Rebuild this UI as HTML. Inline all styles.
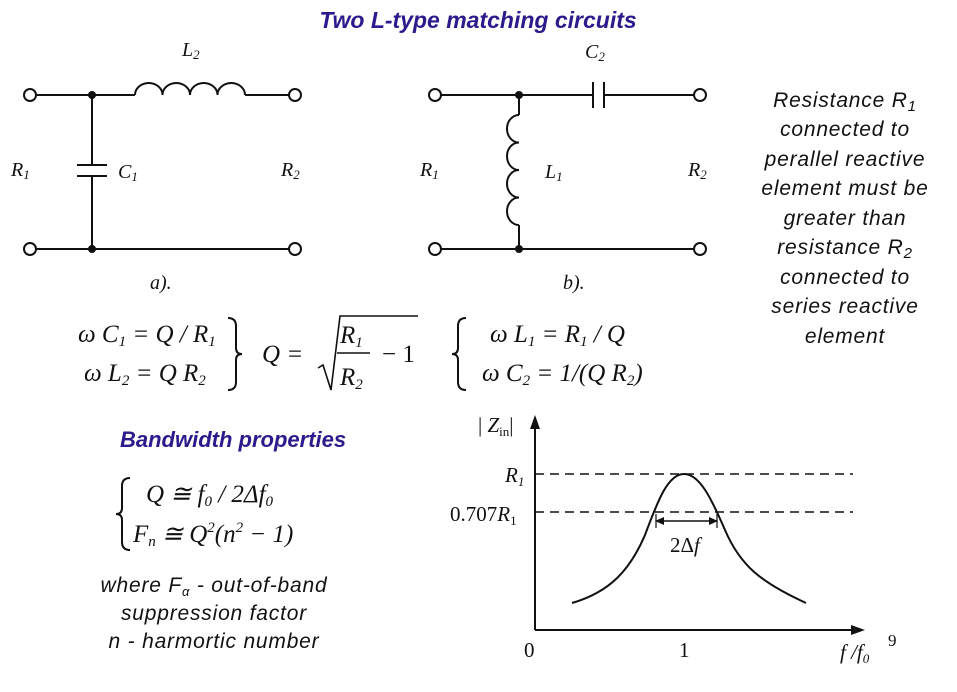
<!DOCTYPE html>
<html><head><style>
body{margin:0;background:#fff;}
svg{display:block}
.s{font-family:"Liberation Serif",serif;font-style:italic;fill:#111}
.n{font-family:"Liberation Serif",serif;fill:#111}
.a{font-family:"Liberation Sans",sans-serif;font-style:italic;fill:#111}
</style></head><body>
<svg width="957" height="692" viewBox="0 0 957 692" xmlns="http://www.w3.org/2000/svg">
<rect width="957" height="692" fill="#fff"/>
<text x="478" y="28" text-anchor="middle" font-family="Liberation Sans,sans-serif" font-weight="bold" font-style="italic" font-size="23" fill="#2b1b8c">Two L-type matching circuits</text>
<g stroke="#111" stroke-width="2" fill="none">
<line x1="36" y1="95" x2="135" y2="95"/>
<path d="M135 95 a13.75 12 0 0 1 27.5 0 a13.75 12 0 0 1 27.5 0 a13.75 12 0 0 1 27.5 0 a13.75 12 0 0 1 27.5 0"/>
<line x1="245" y1="95" x2="289" y2="95"/>
<line x1="36" y1="249" x2="289" y2="249"/>
<line x1="92" y1="95" x2="92" y2="165"/>
<line x1="77" y1="165" x2="107" y2="165"/>
<line x1="77" y1="176" x2="107" y2="176"/>
<line x1="92" y1="176" x2="92" y2="249"/>
<circle cx="30" cy="95" r="6"/><circle cx="295" cy="95" r="6"/>
<circle cx="30" cy="249" r="6"/><circle cx="295" cy="249" r="6"/>
<line x1="441" y1="95" x2="593" y2="95"/>
<line x1="593" y1="82" x2="593" y2="108"/>
<line x1="604" y1="82" x2="604" y2="108"/>
<line x1="604" y1="95" x2="694" y2="95"/>
<line x1="441" y1="249" x2="694" y2="249"/>
<line x1="519" y1="95" x2="519" y2="115"/>
<path d="M519 115 a12 13.75 0 0 0 0 27.5 a12 13.75 0 0 0 0 27.5 a12 13.75 0 0 0 0 27.5 a12 13.75 0 0 0 0 27.5"/>
<line x1="519" y1="225" x2="519" y2="249"/>
<circle cx="435" cy="95" r="6"/><circle cx="700" cy="95" r="6"/>
<circle cx="435" cy="249" r="6"/><circle cx="700" cy="249" r="6"/>
</g>
<circle cx="92" cy="95" r="4" fill="#111"/><circle cx="92" cy="249" r="4" fill="#111"/>
<circle cx="519" cy="95" r="4" fill="#111"/><circle cx="519" cy="249" r="4" fill="#111"/>
<g font-size="20">
<text class="s" x="11" y="176">R<tspan class="n" font-size="13" dy="3">1</tspan></text>
<text class="s" x="118" y="178">C<tspan class="n" font-size="13" dy="3">1</tspan></text>
<text class="s" x="281" y="176">R<tspan class="n" font-size="13" dy="3">2</tspan></text>
<text class="s" x="182" y="56">L<tspan class="n" font-size="13" dy="3">2</tspan></text>
<text class="s" x="150" y="289">a<tspan class="n">).</tspan></text>
<text class="s" x="420" y="176">R<tspan class="n" font-size="13" dy="3">1</tspan></text>
<text class="s" x="545" y="178">L<tspan class="n" font-size="13" dy="3">1</tspan></text>
<text class="s" x="688" y="176">R<tspan class="n" font-size="13" dy="3">2</tspan></text>
<text class="s" x="585" y="58">C<tspan class="n" font-size="13" dy="3">2</tspan></text>
<text class="s" x="563" y="289">b<tspan class="n">).</tspan></text>
</g>
<g class="a" font-size="21" text-anchor="middle" letter-spacing="0.8">
<text x="845" y="107">Resistance R<tspan font-size="15" dy="4">1</tspan></text>
<text x="845" y="136">connected to</text>
<text x="845" y="166">perallel reactive</text>
<text x="845" y="195">element must be</text>
<text x="845" y="225">greater than</text>
<text x="845" y="254">resistance R<tspan font-size="15" dy="4">2</tspan></text>
<text x="845" y="284">connected to</text>
<text x="845" y="313">series reactive</text>
<text x="845" y="343">element</text>
</g>
<g font-size="25">
<text class="s" x="78" y="342">ω C<tspan class="n" font-size="15" dy="4">1</tspan><tspan class="n" dy="-4"> = </tspan>Q / R<tspan class="n" font-size="15" dy="4">1</tspan></text>
<text class="s" x="84" y="381">ω L<tspan class="n" font-size="15" dy="4">2</tspan><tspan class="n" dy="-4"> = </tspan>Q R<tspan class="n" font-size="15" dy="4">2</tspan></text>
<text class="s" x="262" y="362">Q<tspan class="n"> =</tspan></text>
<text class="s" x="340" y="343">R<tspan class="n" font-size="15" dy="4">1</tspan></text>
<text class="s" x="340" y="385">R<tspan class="n" font-size="15" dy="4">2</tspan></text>
<text class="n" x="382" y="362">− 1</text>
<text class="s" x="490" y="342">ω L<tspan class="n" font-size="15" dy="4">1</tspan><tspan class="n" dy="-4"> = </tspan>R<tspan class="n" font-size="15" dy="4">1</tspan><tspan dy="-4"> / Q</tspan></text>
<text class="s" x="482" y="381">ω C<tspan class="n" font-size="15" dy="4">2</tspan><tspan class="n" dy="-4"> = 1/(</tspan>Q R<tspan class="n" font-size="15" dy="4">2</tspan><tspan class="n" dy="-4">)</tspan></text>
</g>
<g stroke="#111" stroke-width="2" fill="none">
<path d="M228 318 q8 0 8 8 v22 q0 6 6 6 q-6 0 -6 6 v22 q0 8 -8 8"/>
<path d="M466 318 q-8 0 -8 8 v22 q0 6 -6 6 q6 0 6 6 v22 q0 8 8 8"/>
<path d="M130 478 q-8 0 -8 8 v22 q0 6 -6 6 q6 0 6 6 v22 q0 8 8 8"/>
</g>
<path d="M318 368 l5 -3 l8 25 l9 -74 h78" stroke="#111" stroke-width="1.6" fill="none"/>
<line x1="337" y1="353" x2="370" y2="353" stroke="#111" stroke-width="1.5"/>
<text x="120" y="447" font-family="Liberation Sans,sans-serif" font-weight="bold" font-style="italic" font-size="22" fill="#2b1b8c">Bandwidth properties</text>
<g font-size="25">
<text class="s" x="146" y="502">Q<tspan class="n"> ≅ </tspan>f<tspan class="n" font-size="15" dy="4">0</tspan><tspan class="n" dy="-4"> / 2Δ</tspan>f<tspan class="n" font-size="15" dy="4">0</tspan></text>
<text class="s" x="133" y="542">F<tspan class="n" font-size="15" dy="4">n</tspan><tspan class="n" dy="-4"> ≅ </tspan>Q<tspan class="n" font-size="15" dy="-10">2</tspan><tspan class="n" dy="10">(</tspan>n<tspan class="n" font-size="15" dy="-10">2</tspan><tspan class="n" dy="10"> − 1)</tspan></text>
</g>
<g class="a" font-size="21" text-anchor="middle" letter-spacing="0.8">
<text x="214" y="592">where F<tspan font-size="13" dy="4">α</tspan><tspan dy="-4"> - out-of-band</tspan></text>
<text x="214" y="620">suppression factor</text>
<text x="214" y="648">n - harmortic number</text>
</g>
<g stroke="#111" stroke-width="2" fill="none">
<line x1="535" y1="630" x2="856" y2="630"/>
<line x1="535" y1="630" x2="535" y2="424"/>
<line x1="535" y1="474" x2="853" y2="474" stroke-dasharray="9 6" stroke-width="1.6"/>
<line x1="535" y1="512" x2="853" y2="512" stroke-dasharray="9 6" stroke-width="1.6"/>
<path d="M572 603 C610 592 630 570 645 535 C658 500 668 474 684 474 C700 474 712 500 725 530 C740 565 760 582 806 603"/>
<line x1="656" y1="521" x2="717" y2="521" stroke-width="1.5"/>
</g>
<path d="M535 415 l-5 14 h10z M865 630 l-14 -5 v10z M655 521 l9 -4 v8z M718 521 l-9 -4 v8z" fill="#111"/>
<line x1="656" y1="514" x2="656" y2="528" stroke="#111" stroke-width="1.2"/>
<line x1="717" y1="514" x2="717" y2="528" stroke="#111" stroke-width="1.2"/>
<g font-size="21">
<text class="n" x="478" y="432">| <tspan class="s">Z</tspan><tspan font-size="13" dy="4">in</tspan><tspan dy="-4">|</tspan></text>
<text class="s" x="505" y="482">R<tspan class="n" font-size="13" dy="4">1</tspan></text>
<text class="n" x="450" y="521">0.707<tspan class="s">R</tspan><tspan font-size="13" dy="4">1</tspan></text>
<text class="n" x="670" y="552">2Δ<tspan class="s">f</tspan></text>
<text class="n" x="524" y="657">0</text>
<text class="n" x="679" y="657">1</text>
<text class="s" x="840" y="659">f /f<tspan class="n" font-size="13" dy="4">0</tspan></text>
<text class="n" x="888" y="646" font-size="17">9</text>
</g>
</svg>
</body></html>
